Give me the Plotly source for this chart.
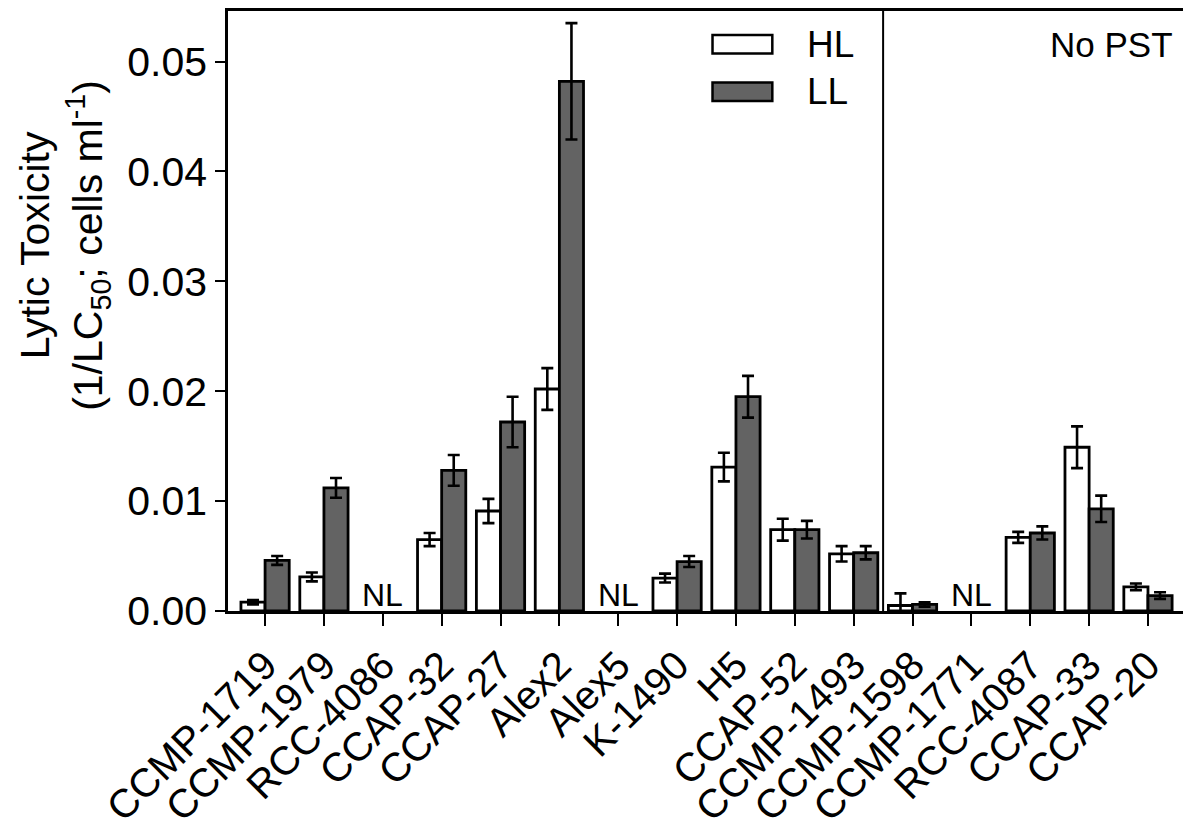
import plotly.graph_objects as go

# strains, with lytic toxicity (1/LC50) for high light and low light
strains = ["CCMP-1719", "CCMP-1979", "RCC-4086", "CCAP-32", "CCAP-27", "Alex2",
           "Alex5", "K-1490", "H5", "CCAP-52", "CCMP-1493", "CCMP-1598",
           "CCMP-1771", "RCC-4087", "CCAP-33", "CCAP-20"]
hl = [0.0008, 0.0031, None, 0.0065, 0.0091, 0.0202, None, 0.0030, 0.0131,
      0.0074, 0.0052, 0.0005, None, 0.0067, 0.0149, 0.0022]
hl_err = [0.0002, 0.0004, None, 0.0006, 0.0011, 0.0019, None, 0.0004, 0.0013,
          0.0010, 0.0007, 0.0011, None, 0.0005, 0.0019, 0.0003]
ll = [0.0046, 0.0112, None, 0.0128, 0.0172, 0.0482, None, 0.0045, 0.0195,
      0.0074, 0.0053, 0.0006, None, 0.0071, 0.0093, 0.0014]
ll_err = [0.0004, 0.0009, None, 0.0014, 0.0023, 0.0053, None, 0.0005, 0.0019,
          0.0008, 0.0006, 0.0002, None, 0.0006, 0.0012, 0.0003]
not_lytic = ["RCC-4086", "Alex5", "CCMP-1771"]
tick_vals = [0.00, 0.01, 0.02, 0.03, 0.04, 0.05]

FONT = "Liberation Sans, Arial, sans-serif"
DARK = "#636363"

fig = go.Figure()
fig.add_trace(go.Bar(x=strains, y=hl, name="HL",
                     marker=dict(color="white", line=dict(color="black", width=2.8)),
                     error_y=dict(type="data", array=hl_err, color="black",
                                  thickness=2.6, width=6)))
fig.add_trace(go.Bar(x=strains, y=ll, name="LL",
                     marker=dict(color=DARK, line=dict(color="black", width=2.8)),
                     error_y=dict(type="data", array=ll_err, color="black",
                                  thickness=2.6, width=6)))

# NL labels for strains with no lysis
for s in not_lytic:
    fig.add_annotation(x=s, y=0, text="NL", showarrow=False, yanchor="bottom",
                       yshift=-4, font=dict(size=32, family=FONT, color="black"))

# divider between PST and no-PST strains
fig.add_shape(type="line", xref="x", yref="paper", x0=10.5, x1=10.5, y0=0, y1=1,
              line=dict(color="black", width=2))
fig.add_annotation(xref="paper", yref="paper", x=0.986, y=0.945, text="No PST",
                   showarrow=False, xanchor="right", yanchor="middle",
                   font=dict(size=35, family=FONT, color="black"))

# hand-drawn legend with wide swatches
for name, fill, y0, y1 in [("HL", "white", 0.929, 0.960), ("LL", DARK, 0.850, 0.881)]:
    fig.add_shape(type="rect", xref="paper", yref="paper", x0=0.5047, x1=0.567,
                  y0=y0, y1=y1, fillcolor=fill, line=dict(color="black", width=2.5))
    fig.add_annotation(xref="paper", yref="paper", x=0.601, y=(y0 + y1) / 2,
                       text=name, showarrow=False, xanchor="left", yanchor="middle",
                       font=dict(size=37, family=FONT, color="black"))

# y title sits above the axis centre in the original, so place it by hand
fig.add_annotation(xref="paper", yref="paper", x=-0.171, y=0.61,
                   text="Lytic Toxicity<br>(1/LC<sub>50</sub>; cells ml<sup>-1</sup>)",
                   textangle=-90, showarrow=False, xanchor="center", yanchor="middle",
                   font=dict(size=41, family=FONT, color="black"))

# page body adds 8px, so the figure is 8px smaller than the window
fig.update_layout(
    width=1183, height=830,
    margin=dict(l=220, r=2, t=0, b=227),
    plot_bgcolor="white", paper_bgcolor="white",
    barmode="group", bargap=0.18, bargroupgap=0,
    showlegend=False,
    font=dict(family=FONT, color="black"),
)
fig.update_xaxes(
    range=[-0.63, 15.68], showline=True, linecolor="black", linewidth=2.5,
    mirror=True, ticks="outside", ticklen=12, tickwidth=2, tickcolor="black",
    tickangle=-45, tickfont=dict(size=40, family=FONT, color="black"),
    showgrid=False,
)
fig.update_yaxes(
    range=[0, 0.0546], tickvals=tick_vals, tickformat=".2f",
    showline=True, linecolor="black", linewidth=2.5, mirror=True,
    ticks="outside", ticklen=10, tickwidth=2, tickcolor="black",
    tickfont=dict(size=41, family=FONT, color="black"),
    showgrid=False, zeroline=False,
)

fig.write_html("out.html")
